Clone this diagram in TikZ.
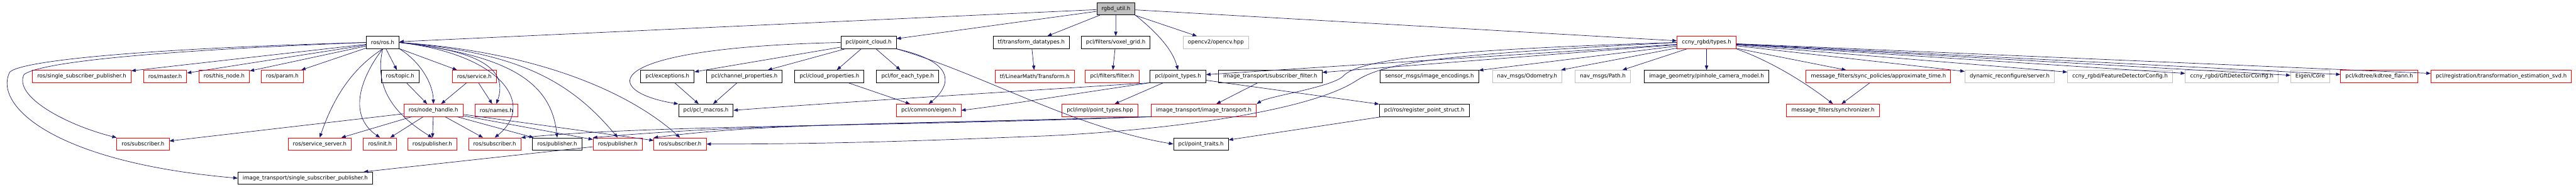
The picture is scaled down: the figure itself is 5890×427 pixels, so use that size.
\documentclass[tikz,border=0pt]{standalone}
\usepackage{fontspec}
\setmainfont{DejaVu Sans}
\usetikzlibrary{arrows.meta}
\definecolor{edgeblue}{HTML}{191970}
\definecolor{boxgray}{HTML}{BFBFBF}
\begin{document}
\begin{tikzpicture}[x=1pt,y=-1pt,
  hdr/.style={draw=black, line width=1.2pt, rectangle, minimum height=28pt, inner xsep=11pt, inner ysep=0pt, font=\fontsize{12.3}{14}\selectfont},
  hdrred/.style={hdr, draw=red},
  hdrgray/.style={hdr, draw=boxgray},
  hdrroot/.style={hdr, fill=boxgray},
  inc/.style={draw=edgeblue, line width=1pt, -{Triangle[length=10pt,width=7.5pt]}, fill=none}]
\useasboundingbox (0,0) rectangle (5890,427);
% top
\node[hdrroot] (rgbd) at (2551.5,20) {rgbd\_util.h};
% first level
\node[hdr] (ros) at (875,97) {ros/ros.h};
\node[hdr] (pc) at (1986,97) {pcl/point\_cloud.h};
\node[hdr] (tfdata) at (2358,97) {tf/transform\_datatypes.h};
\node[hdr] (voxel) at (2551,97) {pcl/filters/voxel\_grid.h};
\node[hdrgray] (opencv) at (2780,97) {opencv2/opencv.hpp};
\node[hdrred] (types) at (3902,97) {ccny\_rgbd/types.h};
% second level
\node[hdrred] (sspub) at (187,174.5) {ros/single\_subscriber\_publisher.h};
\node[hdrred] (master) at (377.5,174.5) {ros/master.h};
\node[hdrred] (thisnode) at (512.5,174.5) {ros/this\_node.h};
\node[hdrred] (param) at (645.5,174.5) {ros/param.h};
\node[hdr] (topic) at (915,174.5) {ros/topic.h};
\node[hdrred] (service) at (1084.5,174.5) {ros/service.h};
\node[hdr] (exceptions) at (1526,174.5) {pcl/exceptions.h};
\node[hdr] (channel) at (1702,174.5) {pcl/channel\_properties.h};
\node[hdr] (cloudprop) at (1896.5,174.5) {pcl/cloud\_properties.h};
\node[hdr] (foreach) at (2075.5,174.5) {pcl/for\_each\_type.h};
\node[hdrred] (tflm) at (2366,174.5) {tf/LinearMath/Transform.h};
\node[hdrred] (filter) at (2543,174.5) {pcl/filters/filter.h};
\node[hdr] (ptypes) at (2693.5,174.5) {pcl/point\_types.h};
\node[hdr] (subfilter) at (2904.5,174.5) {image\_transport/subscriber\_filter.h};
\node[hdr] (imgenc) at (3268.5,174.5) {sensor\_msgs/image\_encodings.h};
\node[hdrgray] (odom) at (3492,174.5) {nav\_msgs/Odometry.h};
\node[hdrgray] (path) at (3665,174.5) {nav\_msgs/Path.h};
\node[hdr] (pinhole) at (3902,174.5) {image\_geometry/pinhole\_camera\_model.h};
\node[hdrred] (approx) at (4295,174.5) {message\_filters/sync\_policies/approximate\_time.h};
\node[hdrgray] (dynrec) at (4595,174.5) {dynamic\_reconfigure/server.h};
\node[hdrgray] (featcfg) at (4847.5,174.5) {ccny\_rgbd/FeatureDetectorConfig.h};
\node[hdrgray] (gftcfg) at (5103,174.5) {ccny\_rgbd/GftDetectorConfig.h};
\node[hdrgray] (eigencore) at (5282,174.5) {Eigen/Core};
\node[hdrred] (kdtree) at (5440,174.5) {pcl/kdtree/kdtree\_flann.h};
\node[hdrred] (svd) at (5719,174.5) {pcl/registration/transformation\_estimation\_svd.h};
% third level
\node[hdrred] (nh) at (991,252) {ros/node\_handle.h};
\node[hdrred] (names) at (1135,252) {ros/names.h};
\node[hdr] (pclmacros) at (1614,252) {pcl/pcl\_macros.h};
\node[hdrred] (eigen) at (2123.5,252) {pcl/common/eigen.h};
\node[hdrred] (impltypes) at (2515,252) {pcl/impl/point\_types.hpp};
\node[hdrred] (itrans) at (2752.5,252) {image\_transport/image\_transport.h};
\node[hdr] (regpoint) at (3256.5,252) {pcl/ros/register\_point\_struct.h};
\node[hdrred] (sync) at (4191,252) {message\_filters/synchronizer.h};
% fourth level
\node[hdrred] (subA) at (327,329) {ros/subscriber.h};
\node[hdrred] (srvserver) at (731,329) {ros/service\_server.h};
\node[hdrred] (init) at (869,329) {ros/init.h};
\node[hdrred] (pubA) at (988.5,329) {ros/publisher.h};
\node[hdrred] (subB) at (1131,329) {ros/subscriber.h};
\node[hdr] (pubK) at (1274,329) {ros/publisher.h};
\node[hdrred] (pubC) at (1412.5,329) {ros/publisher.h};
\node[hdrred] (subD) at (1555,329) {ros/subscriber.h};
\node[hdr] (traits) at (2746,329) {pcl/point\_traits.h};
% bottom
\node[hdr] (itssp) at (698,407) {image\_transport/single\_subscriber\_publisher.h};
% rgbd_util.h
\draw[inc] (rgbd) -- (ros);
\draw[inc] (rgbd) -- (pc);
\draw[inc] (rgbd) -- (tfdata);
\draw[inc] (rgbd) -- (voxel);
\draw[inc] (rgbd.south east) .. controls (2640,70) and (2680,110) .. (ptypes.north);
\draw[inc] (rgbd) -- (opencv);
\draw[inc] (rgbd) -- (types);
% ros/ros.h
\draw[inc] (ros) -- (sspub);
\draw[inc] (ros) -- (master);
\draw[inc] (ros) -- (thisnode);
\draw[inc] (ros) -- (param);
\draw[inc] (ros) -- (topic);
\draw[inc] (ros.south east) .. controls (960,140) and (990,190) .. (nh.north);
\draw[inc] (ros) -- (service);
\draw[inc] (ros.east) .. controls (1080,115) and (1165,150) .. (names.north);
\draw[inc] (ros.west) .. controls (300,118) and (90,145) .. (55,170) .. controls (30,220) and (150,285) .. (subA.north west);
\draw[inc] (ros.west) .. controls (300,112) and (45,140) .. (22,165) .. controls (-15,240) and (120,370) .. (itssp.west);
\draw[inc] (ros.south) .. controls (800,160) and (760,230) .. (srvserver.north);
\draw[inc] (ros.south) .. controls (830,170) and (790,260) .. (init.north);
\draw[inc] (ros.south) .. controls (855,200) and (900,260) .. (pubA.north);
\draw[inc] (ros.east) .. controls (1150,125) and (1225,240) .. (subB.north);
\draw[inc] (ros.east) .. controls (1150,125) and (1260,180) .. (pubK.north);
\draw[inc] (ros.east) .. controls (1180,120) and (1300,180) .. (pubC.north);
\draw[inc] (ros.east) .. controls (1250,120) and (1450,220) .. (subD.north);
% ros/node_handle.h and friends
\draw[inc] (nh) -- (subA);
\draw[inc] (nh) -- (srvserver);
\draw[inc] (nh) -- (init);
\draw[inc] (nh) -- (pubA);
\draw[inc] (nh) -- (subB);
\draw[inc] (nh) -- (pubK);
\draw[inc] (nh) -- (pubC);
\draw[inc] (nh) -- (subD);
\draw[inc] (service) -- (nh);
\draw[inc] (service) -- (names);
\draw[inc] (topic) -- (nh);
\draw[inc] (pubC) -- (itssp);
% image_transport
\draw[inc] (itrans.south west) .. controls (2000,290) and (1500,285) .. (subB.north east);
\draw[inc] (itrans.south west) .. controls (2000,285) and (1700,284) .. (pubC.north west);
\draw[inc] (itrans.south west) .. controls (2000,285) and (1750,282) .. (subD.north west);
\draw[inc] (subfilter) -- (itrans);
% pcl/point_cloud.h
\draw[inc] (pc.west) .. controls (1350,110) and (1380,210) .. (pclmacros.north west);
\draw[inc] (pc) -- (exceptions);
\draw[inc] (pc) -- (channel);
\draw[inc] (pc) -- (cloudprop);
\draw[inc] (pc) -- (foreach);
\draw[inc] (pc.south east) .. controls (2180,140) and (2180,190) .. (eigen.north);
\draw[inc] (pc.south east) .. controls (2250,170) and (2450,290) .. (traits.west);
\draw[inc] (cloudprop) -- (eigen);
\draw[inc] (exceptions) -- (pclmacros);
\draw[inc] (channel) -- (pclmacros);
\draw[inc] (tfdata) -- (tflm);
\draw[inc] (voxel) -- (filter);
% pcl/point_types.h
\draw[inc] (ptypes) -- (regpoint);
\draw[inc] (regpoint) -- (traits);
\draw[inc] (ptypes) -- (impltypes);
\draw[inc] (ptypes.south west) .. controls (2450,215) and (2300,240) .. (eigen.east);
\draw[inc] (ptypes.south west) .. controls (2300,210) and (1900,235) .. (pclmacros.east);
% ccny_rgbd/types.h
\draw[inc] (types) -- (ptypes);
\draw[inc] (types) -- (subfilter);
\draw[inc] (types.west) .. controls (3250,115) and (3100,140) .. (3070,175) .. controls (3040,200) and (2900,220) .. (itrans.north east);
\draw[inc] (types.west) .. controls (3300,125) and (3170,140) .. (3100,185) .. controls (3000,250) and (2700,295) .. (2400,310) .. controls (2100,322) and (1900,329) .. (subD.east);
\draw[inc] (types) -- (imgenc);
\draw[inc] (types) -- (odom);
\draw[inc] (types) -- (path);
\draw[inc] (types) -- (pinhole);
\draw[inc] (types.south east) .. controls (4050,140) and (4130,190) .. (sync.north);
\draw[inc] (types) -- (approx);
\draw[inc] (types) -- (dynrec);
\draw[inc] (types) -- (featcfg);
\draw[inc] (types) -- (gftcfg);
\draw[inc] (types) -- (eigencore);
\draw[inc] (types) -- (kdtree);
\draw[inc] (types) -- (svd);
\draw[inc] (approx) -- (sync);
\end{tikzpicture}
\end{document}
